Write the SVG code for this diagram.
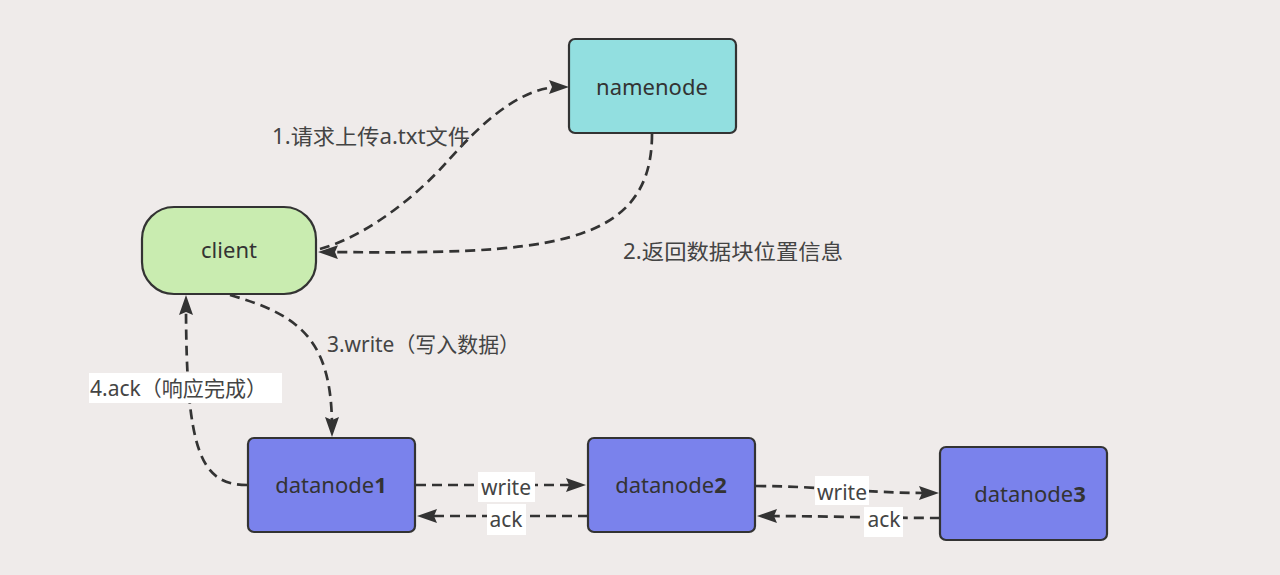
<svg xmlns="http://www.w3.org/2000/svg" width="1280" height="575" viewBox="0 0 1280 575">
<style>
.node{stroke:#333;stroke-width:2.2}
.nt{font-family:"Noto Sans","Noto Sans CJK SC",sans-serif;font-size:22px;fill:#333;text-anchor:middle}
.lt{font-family:"Noto Sans","Noto Sans CJK SC",sans-serif;font-size:21px;fill:#444}
.edge{fill:none;stroke:#333;stroke-width:2.7;stroke-dasharray:10 6}
.bg{fill:#fff}
</style>
<defs>
<marker id="arr" viewBox="0 0 20 14" markerWidth="20" markerHeight="14" markerUnits="userSpaceOnUse" refX="11" refY="7" orient="auto">
<path d="M0,0 L20,7 L0,14 L3,7 z" fill="#333"/>
</marker>
</defs>
<rect width="1280" height="575" fill="#efebea"/>
<g id="connectors">
<path class="edge" marker-end="url(#arr)" d="M320 249 C370 235 420 192 446 163 S515 87 560 87"/>
<path class="edge" marker-end="url(#arr)" d="M652 134 C652 250 540 254 327 252"/>
<path class="edge" marker-end="url(#arr)" d="M230 295 C300 315 332 340 332 428"/>
<path class="edge" marker-end="url(#arr)" d="M247 485 C200 485 186 450 186 304"/>
<path class="edge" marker-end="url(#arr)" d="M416 485 L577 485"/>
<path class="edge" marker-end="url(#arr)" d="M588 516 L426 516"/>
<path class="edge" marker-end="url(#arr)" d="M756 486 C820 486 860 493 930 493"/>
<path class="edge" marker-end="url(#arr)" d="M940 518 C880 518 820 516 766 516"/>
</g>
<g id="labels">
<text class="lt" x="272" y="144" textLength="198" lengthAdjust="spacingAndGlyphs">1.请求上传a.txt文件</text>
<text class="lt" x="623" y="259" textLength="220" lengthAdjust="spacingAndGlyphs">2.返回数据块位置信息</text>
<text class="lt" x="327" y="352" textLength="193" lengthAdjust="spacingAndGlyphs">3.write（写入数据）</text>
<rect class="bg" x="89" y="373" width="193" height="30"/>
<text class="lt" x="90" y="396" textLength="177" lengthAdjust="spacingAndGlyphs">4.ack（响应完成）</text>
<rect class="bg" x="478" y="472" width="57" height="30"/>
<text class="lt" x="506" y="495" text-anchor="middle">write</text>
<rect class="bg" x="487" y="504" width="39" height="31"/>
<text class="lt" x="506" y="527" text-anchor="middle">ack</text>
<rect class="bg" x="815" y="476" width="54" height="29"/>
<text class="lt" x="842" y="500" text-anchor="middle">write</text>
<rect class="bg" x="864" y="507" width="39" height="30"/>
<text class="lt" x="884" y="527" text-anchor="middle">ack</text>
</g>
<g id="namenode">
<rect class="node" x="569" y="39" width="167" height="94" rx="6" fill="#92dfe0"/>
<text class="nt" x="652" y="95">namenode</text>
</g>
<g id="client">
<rect class="node" x="142" y="207" width="174" height="87" rx="32" fill="#c9ecb0"/>
<text class="nt" x="229" y="258">client</text>
</g>
<g id="datanode1">
<rect class="node" x="248" y="438" width="167" height="94" rx="6" fill="#7a82ec"/>
<text class="nt" x="331" y="493">datanode<tspan font-weight="bold">1</tspan></text>
</g>
<g id="datanode2">
<rect class="node" x="588" y="438" width="167" height="94" rx="6" fill="#7a82ec"/>
<text class="nt" x="671" y="493">datanode<tspan font-weight="bold">2</tspan></text>
</g>
<g id="datanode3">
<rect class="node" x="940" y="447" width="167" height="93" rx="6" fill="#7a82ec"/>
<text class="nt" x="1030" y="502">datanode<tspan font-weight="bold">3</tspan></text>
</g>
</svg>
